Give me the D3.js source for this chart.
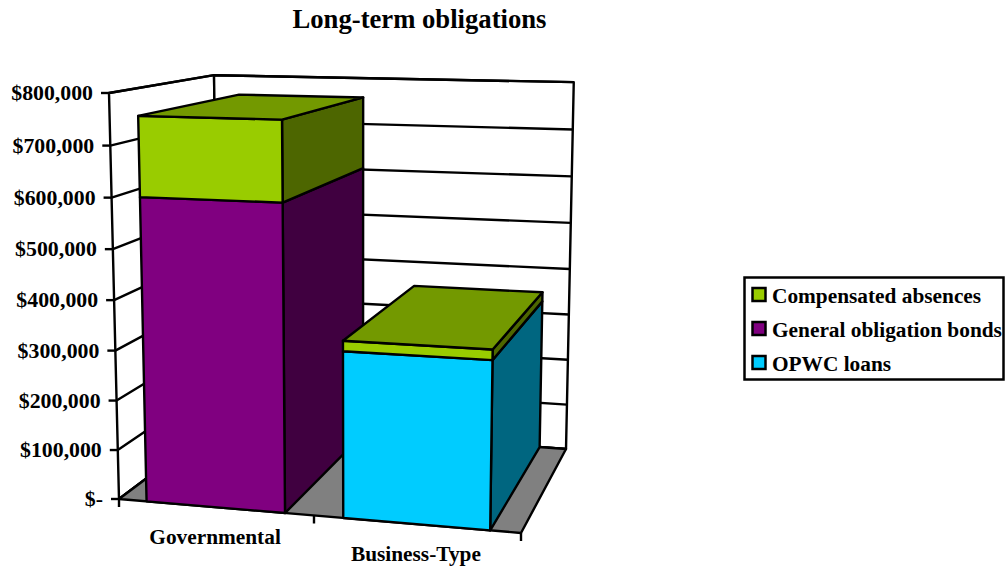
<!DOCTYPE html>
<html>
<head>
<meta charset="utf-8">
<script src="https://cdn.jsdelivr.net/npm/d3@7"></script>
<style>
  html, body { margin: 0; padding: 0; background: #fff; overflow: hidden; }
  text { font-family: "Liberation Serif", serif; font-weight: bold; fill: #000; }
</style>
</head>
<body>
<svg id="chart" width="1005" height="567"></svg>
<script>
const categories = ["Governmental", "Business-Type"];
const seriesNames = ["OPWC loans", "General obligation bonds", "Compensated absences"];
const opwcLoans = [0, 326000];
const bonds = [603000, 0];
const absences = [155000, 20000];
const tickValues = [0, 100000, 200000, 300000, 400000, 500000, 600000, 700000, 800000];
const tickLabels = ["$-", "$100,000", "$200,000", "$300,000", "$400,000", "$500,000", "$600,000", "$700,000", "$800,000"];

const seriesValues = [opwcLoans, bonds, absences];
const frontColors = ["#00ccff", "#800080", "#99cc00"];
const topColors = ["#0099bf", "#600060", "#739900"];
const sideColors = ["#006680", "#400040", "#4d6600"];

const svg = d3.select("#chart");
const lineWidth = 2.4;

// unit cube coords -> 0..1 along each chart axis
const u = d3.scaleBand().domain(categories).range([0, 1]).paddingInner(0.29).paddingOuter(0.145);
const v = d3.scaleLinear().domain([0, 800000]).range([0, 1]);

// perspective of the plot box, fitted on the corners of the picture
const origin = [119, 499], axisU = [402, 34], axisV = [-10, -406], axisW = [100, -75];
const nU = -0.058, nV = -0.04, nW = 0.166;

function project(a, b, c) {
  const d = 1 + nU * a + nV * b + nW * c;
  const ka = a * (1 + nU), kb = b * (1 + nV), kc = c * (1 + nW);
  return [
    origin[0] + (ka * axisU[0] + kb * axisV[0] + kc * axisW[0]) / d,
    origin[1] + (ka * axisU[1] + kb * axisV[1] + kc * axisW[1]) / d
  ];
}

const line = d3.line();
function face(points, fill) {
  svg.append("path")
    .attr("d", line(points.map(p => project(p[0], p[1], p[2]))) + "Z")
    .attr("fill", fill)
    .attr("stroke", "#000")
    .attr("stroke-width", lineWidth)
    .attr("stroke-linejoin", "round");
}

// walls and floor
face([[0, 0, 0], [0, 1, 0], [0, 1, 1], [0, 0, 1]], "#fff");
face([[0, 0, 1], [0, 1, 1], [1, 1, 1], [1, 0, 1]], "#fff");

// gridlines
svg.append("g").selectAll("path")
  .data(tickValues)
  .join("path")
  .attr("d", d => line([project(0, v(d), 0), project(0, v(d), 1), project(1, v(d), 1)]))
  .attr("fill", "none")
  .attr("stroke", "#000")
  .attr("stroke-width", lineWidth);

face([[0, 0, 0], [0, 0, 1], [1, 0, 1], [1, 0, 0]], "#808080");

// stacked boxes, left one first so the right one covers it
categories.forEach((cat, i) => {
  const u0 = u(cat), u1 = u0 + u.bandwidth();
  const w0 = 0, w1 = 1;
  let base = 0;
  const parts = [];
  seriesValues.forEach((values, s) => {
    if (values[i] > 0) {
      parts.push({ s, b: v(base), t: v(base + values[i]) });
      base += values[i];
    }
  });
  parts.forEach(p => {
    face([[u1, p.b, w0], [u1, p.b, w1], [u1, p.t, w1], [u1, p.t, w0]], sideColors[p.s]);
    face([[u0, p.b, w0], [u1, p.b, w0], [u1, p.t, w0], [u0, p.t, w0]], frontColors[p.s]);
  });
  const last = parts[parts.length - 1];
  face([[u0, last.t, w0], [u1, last.t, w0], [u1, last.t, w1], [u0, last.t, w1]], topColors[last.s]);
});

// value axis ticks and labels
tickValues.forEach((d, i) => {
  const p = project(0, v(d), 0);
  svg.append("line")
    .attr("x1", p[0] - 8).attr("x2", p[0]).attr("y1", p[1]).attr("y2", p[1])
    .attr("stroke", "#000").attr("stroke-width", lineWidth);
  svg.append("text")
    .attr("x", p[0] - 16)
    .attr("y", p[1] + 7)
    .attr("text-anchor", "end")
    .attr("font-size", 21.8)
    .text(tickLabels[i]);
});

// category axis ticks and labels
[0, 0.5, 1].forEach(d => {
  const p = project(d, 0, 0);
  svg.append("line")
    .attr("x1", p[0]).attr("x2", p[0]).attr("y1", p[1]).attr("y2", p[1] + 8)
    .attr("stroke", "#000").attr("stroke-width", lineWidth);
});
categories.forEach(cat => {
  const p = project(u(cat) + u.bandwidth() / 2, 0, 0);
  svg.append("text")
    .attr("x", p[0])
    .attr("y", p[1] + 37)
    .attr("text-anchor", "middle")
    .attr("font-size", 21.33)
    .text(cat);
});

// title
svg.append("text")
  .attr("x", 419.5).attr("y", 28)
  .attr("text-anchor", "middle")
  .attr("font-size", 26.67)
  .text("Long-term obligations");

// legend, top entry is the top of the stack
const legend = svg.append("g");
legend.append("rect")
  .attr("x", 744.5).attr("y", 277.5).attr("width", 259).attr("height", 102)
  .attr("fill", "#fff").attr("stroke", "#000").attr("stroke-width", 2.5);
const legendRows = d3.range(seriesNames.length).reverse();
const legendY = d3.scalePoint().domain(legendRows).range([294.5, 362.5]);
legendRows.forEach(s => {
  legend.append("rect")
    .attr("x", 752.5).attr("y", legendY(s) - 6.5).attr("width", 13).attr("height", 13)
    .attr("fill", frontColors[s]).attr("stroke", "#000").attr("stroke-width", 2.5);
  legend.append("text")
    .attr("x", 772).attr("y", legendY(s) + 8)
    .attr("font-size", 21.33)
    .text(seriesNames[s]);
});
</script>
</body>
</html>
